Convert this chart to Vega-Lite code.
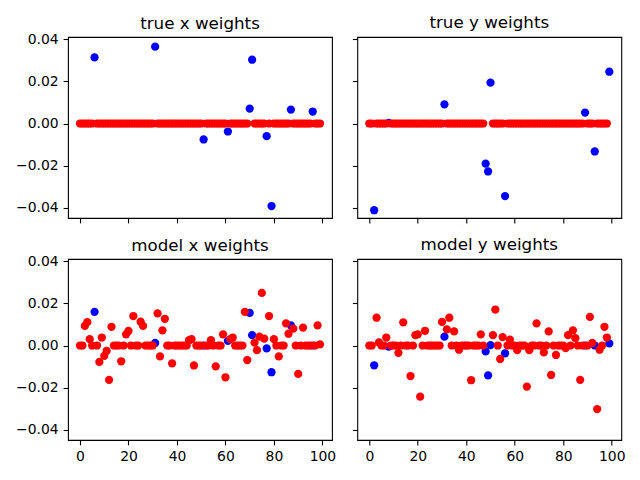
{
  "$schema": "https://vega.github.io/schema/vega-lite/v6.json",
  "background": "white",
  "padding": {"left": 15, "top": 14, "right": 20, "bottom": 10},
  "config": {
    "view": {"stroke": "black", "strokeWidth": 1.1},
    "axis": {"domain": false, "grid": false, "tickColor": "black", "tickSize": 4.9, "tickWidth": 1.1,
             "labelFont": "DejaVu Sans", "labelFontSize": 13.9, "labelColor": "black", "labelPadding": 4.9},
    "title": {"font": "DejaVu Sans", "fontSize": 16.7, "fontWeight": "normal", "color": "black",
              "baseline": "alphabetic", "offset": 5.7, "anchor": "middle", "frame": "group"},
    "circle": {"size": 68, "opacity": 1, "strokeWidth": 0}
  },
  "data": {"values": [
    {"p":"tx","i":0,"w":0,"c":"r"},{"p":"tx","i":1,"w":0,"c":"r"},{"p":"tx","i":2,"w":0,"c":"r"},{"p":"tx","i":3,"w":0,"c":"r"},{"p":"tx","i":4,"w":0,"c":"r"},
    {"p":"tx","i":5,"w":0,"c":"r"},{"p":"tx","i":6,"w":0.0314,"c":"b"},{"p":"tx","i":7,"w":0,"c":"r"},{"p":"tx","i":8,"w":0,"c":"r"},{"p":"tx","i":9,"w":0,"c":"r"},
    {"p":"tx","i":10,"w":0,"c":"r"},{"p":"tx","i":11,"w":0,"c":"r"},{"p":"tx","i":12,"w":0,"c":"r"},{"p":"tx","i":13,"w":0,"c":"r"},{"p":"tx","i":14,"w":0,"c":"r"},
    {"p":"tx","i":15,"w":0,"c":"r"},{"p":"tx","i":16,"w":0,"c":"r"},{"p":"tx","i":17,"w":0,"c":"r"},{"p":"tx","i":18,"w":0,"c":"r"},{"p":"tx","i":19,"w":0,"c":"r"},
    {"p":"tx","i":20,"w":0,"c":"r"},{"p":"tx","i":21,"w":0,"c":"r"},{"p":"tx","i":22,"w":0,"c":"r"},{"p":"tx","i":23,"w":0,"c":"r"},{"p":"tx","i":24,"w":0,"c":"r"},
    {"p":"tx","i":25,"w":0,"c":"r"},{"p":"tx","i":26,"w":0,"c":"r"},{"p":"tx","i":27,"w":0,"c":"r"},{"p":"tx","i":28,"w":0,"c":"r"},{"p":"tx","i":29,"w":0,"c":"r"},
    {"p":"tx","i":30,"w":0,"c":"r"},{"p":"tx","i":31,"w":0.0365,"c":"b"},{"p":"tx","i":32,"w":0,"c":"r"},{"p":"tx","i":33,"w":0,"c":"r"},{"p":"tx","i":34,"w":0,"c":"r"},
    {"p":"tx","i":35,"w":0,"c":"r"},{"p":"tx","i":36,"w":0,"c":"r"},{"p":"tx","i":37,"w":0,"c":"r"},{"p":"tx","i":38,"w":0,"c":"r"},{"p":"tx","i":39,"w":0,"c":"r"},
    {"p":"tx","i":40,"w":0,"c":"r"},{"p":"tx","i":41,"w":0,"c":"r"},{"p":"tx","i":42,"w":0,"c":"r"},{"p":"tx","i":43,"w":0,"c":"r"},{"p":"tx","i":44,"w":0,"c":"r"},
    {"p":"tx","i":45,"w":0,"c":"r"},{"p":"tx","i":46,"w":0,"c":"r"},{"p":"tx","i":47,"w":0,"c":"r"},{"p":"tx","i":48,"w":0,"c":"r"},{"p":"tx","i":49,"w":0,"c":"r"},
    {"p":"tx","i":50,"w":0,"c":"r"},{"p":"tx","i":51,"w":-0.0076,"c":"b"},{"p":"tx","i":52,"w":0,"c":"r"},{"p":"tx","i":53,"w":0,"c":"r"},{"p":"tx","i":54,"w":0,"c":"r"},
    {"p":"tx","i":55,"w":0,"c":"r"},{"p":"tx","i":56,"w":0,"c":"r"},{"p":"tx","i":57,"w":0,"c":"r"},{"p":"tx","i":58,"w":0,"c":"r"},{"p":"tx","i":59,"w":0,"c":"r"},
    {"p":"tx","i":60,"w":0,"c":"r"},{"p":"tx","i":61,"w":-0.0038,"c":"b"},{"p":"tx","i":62,"w":0,"c":"r"},{"p":"tx","i":63,"w":0,"c":"r"},{"p":"tx","i":64,"w":0,"c":"r"},
    {"p":"tx","i":65,"w":0,"c":"r"},{"p":"tx","i":66,"w":0,"c":"r"},{"p":"tx","i":67,"w":0,"c":"r"},{"p":"tx","i":68,"w":0,"c":"r"},{"p":"tx","i":69,"w":0,"c":"r"},
    {"p":"tx","i":70,"w":0.0071,"c":"b"},{"p":"tx","i":71,"w":0.0303,"c":"b"},{"p":"tx","i":72,"w":0,"c":"r"},{"p":"tx","i":73,"w":0,"c":"r"},{"p":"tx","i":74,"w":0,"c":"r"},
    {"p":"tx","i":75,"w":0,"c":"r"},{"p":"tx","i":76,"w":0,"c":"r"},{"p":"tx","i":77,"w":-0.006,"c":"b"},{"p":"tx","i":78,"w":0,"c":"r"},{"p":"tx","i":79,"w":-0.0392,"c":"b"},
    {"p":"tx","i":80,"w":0,"c":"r"},{"p":"tx","i":81,"w":0,"c":"r"},{"p":"tx","i":82,"w":0,"c":"r"},{"p":"tx","i":83,"w":0,"c":"r"},{"p":"tx","i":84,"w":0,"c":"r"},
    {"p":"tx","i":85,"w":0,"c":"r"},{"p":"tx","i":86,"w":0,"c":"r"},{"p":"tx","i":87,"w":0.0066,"c":"b"},{"p":"tx","i":88,"w":0,"c":"r"},{"p":"tx","i":89,"w":0,"c":"r"},
    {"p":"tx","i":90,"w":0,"c":"r"},{"p":"tx","i":91,"w":0,"c":"r"},{"p":"tx","i":92,"w":0,"c":"r"},{"p":"tx","i":93,"w":0,"c":"r"},{"p":"tx","i":94,"w":0,"c":"r"},
    {"p":"tx","i":95,"w":0,"c":"r"},{"p":"tx","i":96,"w":0.0057,"c":"b"},{"p":"tx","i":97,"w":0,"c":"r"},{"p":"tx","i":98,"w":0,"c":"r"},{"p":"tx","i":99,"w":0,"c":"r"},

    {"p":"ty","i":0,"w":0,"c":"r"},{"p":"ty","i":1,"w":0,"c":"r"},{"p":"ty","i":2,"w":-0.0412,"c":"b"},{"p":"ty","i":3,"w":0,"c":"r"},{"p":"ty","i":4,"w":0,"c":"r"},
    {"p":"ty","i":5,"w":0,"c":"r"},{"p":"ty","i":6,"w":0,"c":"r"},{"p":"ty","i":7,"w":0,"c":"r"},{"p":"ty","i":8,"w":0.0003,"c":"b"},{"p":"ty","i":9,"w":0,"c":"r"},
    {"p":"ty","i":10,"w":0,"c":"r"},{"p":"ty","i":11,"w":0,"c":"r"},{"p":"ty","i":12,"w":0,"c":"r"},{"p":"ty","i":13,"w":0,"c":"r"},{"p":"ty","i":14,"w":0,"c":"r"},
    {"p":"ty","i":15,"w":0,"c":"r"},{"p":"ty","i":16,"w":0,"c":"r"},{"p":"ty","i":17,"w":0,"c":"r"},{"p":"ty","i":18,"w":0,"c":"r"},{"p":"ty","i":19,"w":0,"c":"r"},
    {"p":"ty","i":20,"w":0,"c":"r"},{"p":"ty","i":21,"w":0,"c":"r"},{"p":"ty","i":22,"w":0,"c":"r"},{"p":"ty","i":23,"w":0,"c":"r"},{"p":"ty","i":24,"w":0,"c":"r"},
    {"p":"ty","i":25,"w":0,"c":"r"},{"p":"ty","i":26,"w":0,"c":"r"},{"p":"ty","i":27,"w":0,"c":"r"},{"p":"ty","i":28,"w":0,"c":"r"},{"p":"ty","i":29,"w":0,"c":"r"},
    {"p":"ty","i":30,"w":0,"c":"r"},{"p":"ty","i":31,"w":0.0091,"c":"b"},{"p":"ty","i":32,"w":0,"c":"r"},{"p":"ty","i":33,"w":0,"c":"r"},{"p":"ty","i":34,"w":0,"c":"r"},
    {"p":"ty","i":35,"w":0,"c":"r"},{"p":"ty","i":36,"w":0,"c":"r"},{"p":"ty","i":37,"w":0,"c":"r"},{"p":"ty","i":38,"w":0,"c":"r"},{"p":"ty","i":39,"w":0,"c":"r"},
    {"p":"ty","i":40,"w":0,"c":"r"},{"p":"ty","i":41,"w":0,"c":"r"},{"p":"ty","i":42,"w":0,"c":"r"},{"p":"ty","i":43,"w":0,"c":"r"},{"p":"ty","i":44,"w":0,"c":"r"},
    {"p":"ty","i":45,"w":0,"c":"r"},{"p":"ty","i":46,"w":0,"c":"r"},{"p":"ty","i":47,"w":0,"c":"r"},{"p":"ty","i":48,"w":-0.0191,"c":"b"},{"p":"ty","i":49,"w":-0.0228,"c":"b"},
    {"p":"ty","i":50,"w":0.0194,"c":"b"},{"p":"ty","i":51,"w":0,"c":"r"},{"p":"ty","i":52,"w":0,"c":"r"},{"p":"ty","i":53,"w":0,"c":"r"},{"p":"ty","i":54,"w":0,"c":"r"},
    {"p":"ty","i":55,"w":0,"c":"r"},{"p":"ty","i":56,"w":-0.0345,"c":"b"},{"p":"ty","i":57,"w":0,"c":"r"},{"p":"ty","i":58,"w":0,"c":"r"},{"p":"ty","i":59,"w":0,"c":"r"},
    {"p":"ty","i":60,"w":0,"c":"r"},{"p":"ty","i":61,"w":0,"c":"r"},{"p":"ty","i":62,"w":0,"c":"r"},{"p":"ty","i":63,"w":0,"c":"r"},{"p":"ty","i":64,"w":0,"c":"r"},
    {"p":"ty","i":65,"w":0,"c":"r"},{"p":"ty","i":66,"w":0,"c":"r"},{"p":"ty","i":67,"w":0,"c":"r"},{"p":"ty","i":68,"w":0,"c":"r"},{"p":"ty","i":69,"w":0,"c":"r"},
    {"p":"ty","i":70,"w":0,"c":"r"},{"p":"ty","i":71,"w":0,"c":"r"},{"p":"ty","i":72,"w":0,"c":"r"},{"p":"ty","i":73,"w":0,"c":"r"},{"p":"ty","i":74,"w":0,"c":"r"},
    {"p":"ty","i":75,"w":0,"c":"r"},{"p":"ty","i":76,"w":0,"c":"r"},{"p":"ty","i":77,"w":0,"c":"r"},{"p":"ty","i":78,"w":0,"c":"r"},{"p":"ty","i":79,"w":0,"c":"r"},
    {"p":"ty","i":80,"w":0,"c":"r"},{"p":"ty","i":81,"w":0,"c":"r"},{"p":"ty","i":82,"w":0,"c":"r"},{"p":"ty","i":83,"w":0,"c":"r"},{"p":"ty","i":84,"w":0,"c":"r"},
    {"p":"ty","i":85,"w":0,"c":"r"},{"p":"ty","i":86,"w":0,"c":"r"},{"p":"ty","i":87,"w":0,"c":"r"},{"p":"ty","i":88,"w":0,"c":"r"},{"p":"ty","i":89,"w":0.0052,"c":"b"},
    {"p":"ty","i":90,"w":0,"c":"r"},{"p":"ty","i":91,"w":0,"c":"r"},{"p":"ty","i":92,"w":0,"c":"r"},{"p":"ty","i":93,"w":-0.0133,"c":"b"},{"p":"ty","i":94,"w":0,"c":"r"},
    {"p":"ty","i":95,"w":0,"c":"r"},{"p":"ty","i":96,"w":0,"c":"r"},{"p":"ty","i":97,"w":0,"c":"r"},{"p":"ty","i":98,"w":0,"c":"r"},{"p":"ty","i":99,"w":0.0246,"c":"b"},

    {"p":"mx","i":0,"w":0,"c":"r"},{"p":"mx","i":1,"w":0,"c":"r"},{"p":"mx","i":2,"w":0.0093,"c":"r"},{"p":"mx","i":3,"w":0.0111,"c":"r"},{"p":"mx","i":4,"w":0.003,"c":"r"},
    {"p":"mx","i":5,"w":0,"c":"r"},{"p":"mx","i":6,"w":0.016,"c":"b"},{"p":"mx","i":7,"w":0,"c":"r"},{"p":"mx","i":8,"w":-0.0078,"c":"r"},{"p":"mx","i":9,"w":0.0038,"c":"r"},
    {"p":"mx","i":10,"w":-0.0049,"c":"r"},{"p":"mx","i":11,"w":-0.0025,"c":"r"},{"p":"mx","i":12,"w":-0.0163,"c":"r"},{"p":"mx","i":13,"w":0.0089,"c":"r"},{"p":"mx","i":14,"w":0,"c":"r"},
    {"p":"mx","i":15,"w":0,"c":"r"},{"p":"mx","i":16,"w":0,"c":"r"},{"p":"mx","i":17,"w":-0.0075,"c":"r"},{"p":"mx","i":18,"w":0,"c":"r"},{"p":"mx","i":19,"w":0.0053,"c":"r"},
    {"p":"mx","i":20,"w":0.0069,"c":"r"},{"p":"mx","i":21,"w":0,"c":"r"},{"p":"mx","i":22,"w":0.014,"c":"r"},{"p":"mx","i":23,"w":0,"c":"r"},{"p":"mx","i":24,"w":0,"c":"r"},
    {"p":"mx","i":25,"w":0.0113,"c":"r"},{"p":"mx","i":26,"w":0.0093,"c":"r"},{"p":"mx","i":27,"w":0,"c":"r"},{"p":"mx","i":28,"w":0,"c":"r"},{"p":"mx","i":29,"w":0,"c":"r"},
    {"p":"mx","i":30,"w":0,"c":"r"},{"p":"mx","i":31,"w":0.0012,"c":"b"},{"p":"mx","i":32,"w":0.0153,"c":"r"},{"p":"mx","i":33,"w":-0.0052,"c":"r"},{"p":"mx","i":34,"w":0.0072,"c":"r"},
    {"p":"mx","i":35,"w":0.0127,"c":"r"},{"p":"mx","i":36,"w":0,"c":"r"},{"p":"mx","i":37,"w":0,"c":"r"},{"p":"mx","i":38,"w":-0.0085,"c":"r"},{"p":"mx","i":39,"w":0,"c":"r"},
    {"p":"mx","i":40,"w":0,"c":"r"},{"p":"mx","i":41,"w":0,"c":"r"},{"p":"mx","i":42,"w":0,"c":"r"},{"p":"mx","i":43,"w":0,"c":"r"},{"p":"mx","i":44,"w":0,"c":"r"},
    {"p":"mx","i":45,"w":0.0025,"c":"r"},{"p":"mx","i":46,"w":0.003,"c":"r"},{"p":"mx","i":47,"w":-0.0095,"c":"r"},{"p":"mx","i":48,"w":0,"c":"r"},{"p":"mx","i":49,"w":0,"c":"r"},
    {"p":"mx","i":50,"w":0,"c":"r"},{"p":"mx","i":51,"w":0,"c":"b"},{"p":"mx","i":52,"w":0,"c":"r"},{"p":"mx","i":53,"w":0,"c":"r"},{"p":"mx","i":54,"w":0.0025,"c":"r"},
    {"p":"mx","i":55,"w":0,"c":"r"},{"p":"mx","i":56,"w":-0.0099,"c":"r"},{"p":"mx","i":57,"w":0,"c":"r"},{"p":"mx","i":58,"w":0,"c":"r"},{"p":"mx","i":59,"w":0.0053,"c":"r"},
    {"p":"mx","i":60,"w":-0.0151,"c":"r"},{"p":"mx","i":61,"w":0.0022,"c":"b"},{"p":"mx","i":62,"w":0.003,"c":"r"},{"p":"mx","i":63,"w":0.0038,"c":"r"},{"p":"mx","i":64,"w":0,"c":"r"},
    {"p":"mx","i":65,"w":0,"c":"r"},{"p":"mx","i":66,"w":0,"c":"r"},{"p":"mx","i":67,"w":0,"c":"r"},{"p":"mx","i":68,"w":0.016,"c":"r"},{"p":"mx","i":69,"w":-0.0069,"c":"r"},
    {"p":"mx","i":70,"w":0.0155,"c":"b"},{"p":"mx","i":71,"w":0.0049,"c":"b"},{"p":"mx","i":72,"w":0.0014,"c":"r"},{"p":"mx","i":73,"w":-0.0022,"c":"r"},{"p":"mx","i":74,"w":0.0042,"c":"r"},
    {"p":"mx","i":75,"w":0.025,"c":"r"},{"p":"mx","i":76,"w":0.0033,"c":"r"},{"p":"mx","i":77,"w":-0.0014,"c":"b"},{"p":"mx","i":78,"w":0.014,"c":"r"},{"p":"mx","i":79,"w":-0.0127,"c":"b"},
    {"p":"mx","i":80,"w":0.003,"c":"r"},{"p":"mx","i":81,"w":0,"c":"r"},{"p":"mx","i":82,"w":-0.0052,"c":"r"},{"p":"mx","i":83,"w":0,"c":"r"},{"p":"mx","i":84,"w":0,"c":"r"},
    {"p":"mx","i":85,"w":0.0105,"c":"r"},{"p":"mx","i":86,"w":0.0056,"c":"r"},{"p":"mx","i":87,"w":0.0096,"c":"b"},{"p":"mx","i":88,"w":0.008,"c":"r"},{"p":"mx","i":89,"w":0,"c":"r"},
    {"p":"mx","i":90,"w":-0.0135,"c":"r"},{"p":"mx","i":91,"w":0,"c":"r"},{"p":"mx","i":92,"w":0.0085,"c":"r"},{"p":"mx","i":93,"w":0,"c":"r"},{"p":"mx","i":94,"w":0,"c":"r"},
    {"p":"mx","i":95,"w":0,"c":"r"},{"p":"mx","i":96,"w":0,"c":"b"},{"p":"mx","i":97,"w":0,"c":"r"},{"p":"mx","i":98,"w":0.0096,"c":"r"},{"p":"mx","i":99,"w":0.0005,"c":"r"},

    {"p":"my","i":0,"w":0,"c":"r"},{"p":"my","i":1,"w":0,"c":"r"},{"p":"my","i":2,"w":-0.0094,"c":"b"},{"p":"my","i":3,"w":0.0132,"c":"r"},{"p":"my","i":4,"w":0.0015,"c":"r"},
    {"p":"my","i":5,"w":0,"c":"r"},{"p":"my","i":6,"w":0,"c":"r"},{"p":"my","i":7,"w":0.0038,"c":"r"},{"p":"my","i":8,"w":-0.0005,"c":"b"},{"p":"my","i":9,"w":0,"c":"r"},
    {"p":"my","i":10,"w":0,"c":"r"},{"p":"my","i":11,"w":0,"c":"r"},{"p":"my","i":12,"w":-0.0035,"c":"r"},{"p":"my","i":13,"w":0,"c":"r"},{"p":"my","i":14,"w":0.011,"c":"r"},
    {"p":"my","i":15,"w":0,"c":"r"},{"p":"my","i":16,"w":0,"c":"r"},{"p":"my","i":17,"w":-0.0145,"c":"r"},{"p":"my","i":18,"w":0,"c":"r"},{"p":"my","i":19,"w":0.0049,"c":"r"},
    {"p":"my","i":20,"w":0.0053,"c":"r"},{"p":"my","i":21,"w":-0.0243,"c":"r"},{"p":"my","i":22,"w":0,"c":"r"},{"p":"my","i":23,"w":0.007,"c":"r"},{"p":"my","i":24,"w":0,"c":"r"},
    {"p":"my","i":25,"w":0,"c":"r"},{"p":"my","i":26,"w":0,"c":"r"},{"p":"my","i":27,"w":0,"c":"r"},{"p":"my","i":28,"w":0,"c":"r"},{"p":"my","i":29,"w":0,"c":"r"},
    {"p":"my","i":30,"w":0.0112,"c":"r"},{"p":"my","i":31,"w":0.0042,"c":"b"},{"p":"my","i":32,"w":0.0077,"c":"r"},{"p":"my","i":33,"w":0.0132,"c":"r"},{"p":"my","i":34,"w":0,"c":"r"},
    {"p":"my","i":35,"w":0.0067,"c":"r"},{"p":"my","i":36,"w":0,"c":"r"},{"p":"my","i":37,"w":-0.002,"c":"r"},{"p":"my","i":38,"w":0,"c":"r"},{"p":"my","i":39,"w":0,"c":"r"},
    {"p":"my","i":40,"w":0,"c":"r"},{"p":"my","i":41,"w":0,"c":"r"},{"p":"my","i":42,"w":-0.0165,"c":"r"},{"p":"my","i":43,"w":0,"c":"r"},{"p":"my","i":44,"w":0,"c":"r"},
    {"p":"my","i":45,"w":0,"c":"r"},{"p":"my","i":46,"w":0.0053,"c":"r"},{"p":"my","i":47,"w":0,"c":"r"},{"p":"my","i":48,"w":-0.0028,"c":"b"},{"p":"my","i":49,"w":-0.0142,"c":"b"},
    {"p":"my","i":50,"w":0.0002,"c":"b"},{"p":"my","i":51,"w":0.0049,"c":"r"},{"p":"my","i":52,"w":0.0171,"c":"r"},{"p":"my","i":53,"w":0,"c":"r"},{"p":"my","i":54,"w":-0.0064,"c":"r"},
    {"p":"my","i":55,"w":0.004,"c":"r"},{"p":"my","i":56,"w":-0.0037,"c":"b"},{"p":"my","i":57,"w":0,"c":"r"},{"p":"my","i":58,"w":0.0028,"c":"r"},{"p":"my","i":59,"w":0,"c":"r"},
    {"p":"my","i":60,"w":0,"c":"r"},{"p":"my","i":61,"w":-0.0022,"c":"r"},{"p":"my","i":62,"w":0,"c":"r"},{"p":"my","i":63,"w":0,"c":"r"},{"p":"my","i":64,"w":0,"c":"r"},
    {"p":"my","i":65,"w":-0.0195,"c":"r"},{"p":"my","i":66,"w":-0.0022,"c":"r"},{"p":"my","i":67,"w":0,"c":"r"},{"p":"my","i":68,"w":0,"c":"r"},{"p":"my","i":69,"w":0.0105,"c":"r"},
    {"p":"my","i":70,"w":0,"c":"r"},{"p":"my","i":71,"w":0,"c":"r"},{"p":"my","i":72,"w":-0.0033,"c":"r"},{"p":"my","i":73,"w":0,"c":"r"},{"p":"my","i":74,"w":0.0067,"c":"r"},
    {"p":"my","i":75,"w":-0.014,"c":"r"},{"p":"my","i":76,"w":0,"c":"r"},{"p":"my","i":77,"w":-0.0045,"c":"r"},{"p":"my","i":78,"w":0,"c":"r"},{"p":"my","i":79,"w":0,"c":"r"},
    {"p":"my","i":80,"w":0,"c":"r"},{"p":"my","i":81,"w":-0.0012,"c":"r"},{"p":"my","i":82,"w":0.0049,"c":"r"},{"p":"my","i":83,"w":0,"c":"r"},{"p":"my","i":84,"w":0.0072,"c":"r"},
    {"p":"my","i":85,"w":0.0035,"c":"r"},{"p":"my","i":86,"w":0,"c":"r"},{"p":"my","i":87,"w":-0.0163,"c":"r"},{"p":"my","i":88,"w":0,"c":"r"},{"p":"my","i":89,"w":0,"c":"b"},
    {"p":"my","i":90,"w":0,"c":"r"},{"p":"my","i":91,"w":0.0136,"c":"r"},{"p":"my","i":92,"w":0.0012,"c":"r"},{"p":"my","i":93,"w":0,"c":"b"},{"p":"my","i":94,"w":-0.0302,"c":"r"},
    {"p":"my","i":95,"w":-0.002,"c":"r"},{"p":"my","i":96,"w":0,"c":"r"},{"p":"my","i":97,"w":0.0089,"c":"r"},{"p":"my","i":98,"w":0.0038,"c":"r"},{"p":"my","i":99,"w":0.001,"c":"b"}
  ]},
  "bounds": "flush",
  "columns": 2,
  "spacing": {"row": 41, "column": 25.3},
  "concat": [
    {
      "width": 264, "height": 181,
      "title": {"text": "true x weights", "dy": 6.5},
      "transform": [{"filter": "datum.p == 'tx'"}],
      "encoding": {
        "x": {"field": "i", "type": "quantitative", "scale": {"domain": [-4.95, 103.95], "nice": false, "zero": false},
              "axis": {"values": [0, 20, 40, 60, 80, 100], "labels": false, "title": null}},
        "y": {"field": "w", "type": "quantitative", "scale": {"domain": [-0.0449, 0.0411], "nice": false, "zero": false},
              "axis": {"values": [-0.04, -0.02, 0, 0.02, 0.04], "labelExpr": "replace(format(datum.value, '.2f'), '-', '−')", "title": null}}
      },
      "layer": [
        {"transform": [{"filter": "datum.c == 'b'"}], "mark": {"type": "circle", "color": "#0000ff"}},
        {"transform": [{"filter": "datum.c == 'r'"}], "mark": {"type": "circle", "color": "#ff0000"}}
      ]
    },
    {
      "width": 264, "height": 181,
      "title": "true y weights",
      "transform": [{"filter": "datum.p == 'ty'"}],
      "encoding": {
        "x": {"field": "i", "type": "quantitative", "scale": {"domain": [-4.95, 103.95], "nice": false, "zero": false},
              "axis": {"values": [0, 20, 40, 60, 80, 100], "labels": false, "title": null}},
        "y": {"field": "w", "type": "quantitative", "scale": {"domain": [-0.0449, 0.0411], "nice": false, "zero": false},
              "axis": {"values": [-0.04, -0.02, 0, 0.02, 0.04], "labels": false, "title": null}}
      },
      "layer": [
        {"transform": [{"filter": "datum.c == 'b'"}], "mark": {"type": "circle", "color": "#0000ff"}},
        {"transform": [{"filter": "datum.c == 'r'"}], "mark": {"type": "circle", "color": "#ff0000"}}
      ]
    },
    {
      "width": 264, "height": 181,
      "title": {"text": "model x weights", "dy": 6.5},
      "transform": [{"filter": "datum.p == 'mx'"}],
      "encoding": {
        "x": {"field": "i", "type": "quantitative", "scale": {"domain": [-4.95, 103.95], "nice": false, "zero": false},
              "axis": {"values": [0, 20, 40, 60, 80, 100], "title": null}},
        "y": {"field": "w", "type": "quantitative", "scale": {"domain": [-0.0449, 0.0411], "nice": false, "zero": false},
              "axis": {"values": [-0.04, -0.02, 0, 0.02, 0.04], "labelExpr": "replace(format(datum.value, '.2f'), '-', '−')", "title": null}}
      },
      "layer": [
        {"transform": [{"filter": "datum.c == 'b'"}], "mark": {"type": "circle", "color": "#0000ff"}},
        {"transform": [{"filter": "datum.c == 'r'"}], "mark": {"type": "circle", "color": "#ff0000"}}
      ]
    },
    {
      "width": 264, "height": 181,
      "title": "model y weights",
      "transform": [{"filter": "datum.p == 'my'"}],
      "encoding": {
        "x": {"field": "i", "type": "quantitative", "scale": {"domain": [-4.95, 103.95], "nice": false, "zero": false},
              "axis": {"values": [0, 20, 40, 60, 80, 100], "title": null}},
        "y": {"field": "w", "type": "quantitative", "scale": {"domain": [-0.0449, 0.0411], "nice": false, "zero": false},
              "axis": {"values": [-0.04, -0.02, 0, 0.02, 0.04], "labels": false, "title": null}}
      },
      "layer": [
        {"transform": [{"filter": "datum.c == 'b'"}], "mark": {"type": "circle", "color": "#0000ff"}},
        {"transform": [{"filter": "datum.c == 'r'"}], "mark": {"type": "circle", "color": "#ff0000"}}
      ]
    }
  ]
}
